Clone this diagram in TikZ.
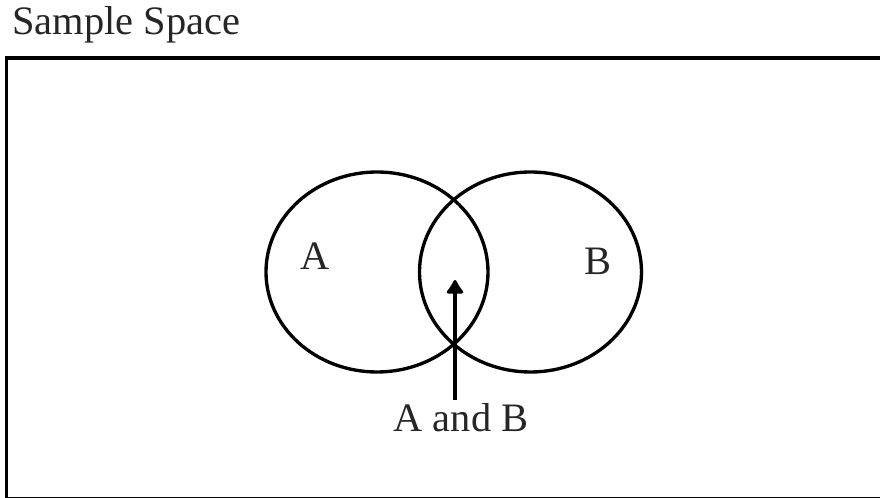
\documentclass[tikz,border=0pt]{standalone}
\usepackage{fontspec}
\setmainfont{Liberation Serif}
\usetikzlibrary{arrows.meta,positioning,shapes.geometric}

\begin{document}
\begin{tikzpicture}[
    set/.style={ellipse, draw=black, line width=1.9pt, minimum width=4.44cm, minimum height=4cm, inner sep=0pt},
    lbl/.style={font=\fontsize{23}{27}\selectfont, text=black!85, inner sep=0pt, anchor=base}
  ]
    \useasboundingbox (0,0) rectangle (17.6,9.96);
    \clip (0,0) rectangle (17.6,9.96);
    % Sample space
    \node[lbl, anchor=base west] (title) at (0.24, 9.26) {Sample Space};
    \draw[line width=2.1pt] (0.13,-0.01) rectangle (17.9,8.8);
    % Events
    \node[set] (setA) at (7.54, 4.52) {};
    \node[set] (setB) at (10.61, 4.52) {};
    \node[lbl] (labA) at (6.3, 4.56) {A};
    \node[lbl] (labB) at (11.96, 4.46) {B};
    % Intersection
    \node[lbl] (both) at (9.22, 1.32) {A and B};
    \coordinate (tip) at (9.1, 4.36);
    \draw[-{Latex[length=0.32cm, width=0.42cm, round]}, line width=1.8pt]
      ([yshift=2pt]both.north -| tip) -- (tip);
  \end{tikzpicture}
\end{document}
